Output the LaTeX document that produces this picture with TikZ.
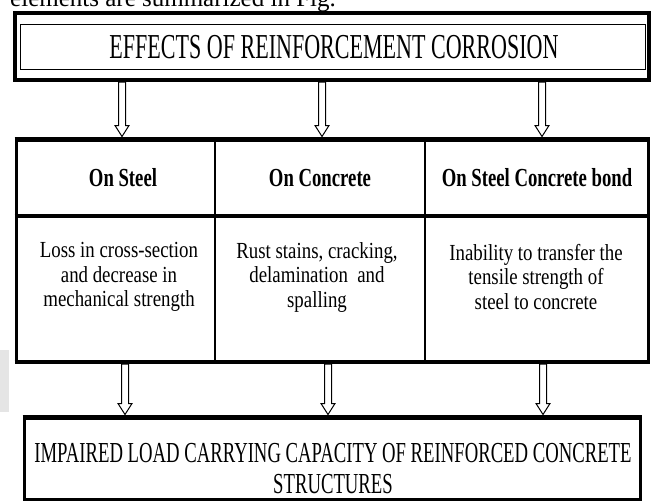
\documentclass[tikz,border=0pt]{standalone}
\usepackage{fontspec}
\setmainfont{Liberation Serif}
\newfontfamily\titlefont[FakeStretch=0.63]{Liberation Serif}
\newfontfamily\headfont[FakeStretch=0.72]{Liberation Serif}
\newfontfamily\bodyfont[FakeStretch=0.82]{Liberation Serif}
\newfontfamily\botfont[FakeStretch=0.645]{Liberation Serif}
\usetikzlibrary{calc}
\begin{document}
\begin{tikzpicture}[x=1pt,y=-1pt,
  harrow/.style={fill=white, draw=black, line width=1pt, line join=miter,
    to path={let \p1=(\tikztostart), \p2=(\tikztotarget) in
      (\x1-3.5pt,\y1) -- (\x1-3.5pt,\y2+11pt) -- (\x1-7pt,\y2+11pt) -- (\x1,\y2)
      -- (\x1+7pt,\y2+11pt) -- (\x1+3.5pt,\y2+11pt) -- (\x1+3.5pt,\y1) -- cycle}},
  txt/.style={inner sep=0pt, align=center},
  head/.style={txt, font=\headfont\bfseries\fontsize{26}{30}\selectfont},
  body/.style={txt, font=\bodyfont\fontsize{23}{24.5}\selectfont}]
\clip (0,0) rectangle (652,501);
\fill[white] (0,0) rectangle (652,501);
\fill[black!10] (0,350) rectangle (9,412);
% page text (cut off)
\node[anchor=base west, inner sep=0pt, font=\fontsize{25}{30}\selectfont] (pg) at (10,6) {elements are summarized in Fig.};
% title box
\node[draw, line width=3.5pt, minimum width=634pt, minimum height=67pt, inner sep=0pt] (t) at (332,46.5) {};
\draw[line width=1pt] (20.5,24) rectangle (645.5,69.5);
\node[txt, font=\titlefont\fontsize{35}{38}\selectfont] (tt) at (334,47) {EFFECTS OF REINFORCEMENT CORROSION};
% grid
\draw[line width=3pt] (16,139) rectangle (648,362);
\draw[line width=5pt] (14.5,139) -- (649.5,139);
\draw[line width=4pt] (14.5,216) -- (649.5,216);
\draw[line width=4.5pt] (14.5,362) -- (649.5,362);
\draw[line width=2pt] (215,139) -- (215,362);
\draw[line width=2pt] (425,139) -- (425,362);
\node[head] (h1) at (123,178) {On Steel};
\node[head] (h2) at (320,178) {On Concrete};
\node[head] (h3) at (537,178) {On Steel Concrete bond};
\node[body] (b1) at (119,277) {Loss in cross-section\\and decrease in\\mechanical strength};
\node[body] (b2) at (317,277) {Rust stains, cracking,\\delamination \ and\\spalling};
\node[body] (b3) at (536,277) {Inability to transfer the\\tensile strength of\\steel to concrete};
% bottom box
\draw[line width=3pt] (24,417) rectangle (640,499.5);
\draw[line width=5pt] (22.5,417) -- (641.5,417);
\node[txt, font=\botfont\fontsize{29}{31}\selectfont] (bt) at (333,469) {IMPAIRED LOAD CARRYING CAPACITY OF REINFORCED CONCRETE\\STRUCTURES};
% arrow coordinates
\coordinate (a1s) at (122,82);  \coordinate (a1e) at (122,136.5);
\coordinate (a2s) at (322,82);  \coordinate (a2e) at (322,136.5);
\coordinate (a3s) at (542,82);  \coordinate (a3e) at (542,136.5);
\coordinate (c1s) at (125,364);   \coordinate (c1e) at (125,414.5);
\coordinate (c2s) at (328,364);   \coordinate (c2e) at (328,414.5);
\coordinate (c3s) at (543,364);   \coordinate (c3e) at (543,414.5);
\draw[harrow] (a1s) to (a1e);
\draw[harrow] (a2s) to (a2e);
\draw[harrow] (a3s) to (a3e);
\draw[harrow] (c1s) to (c1e);
\draw[harrow] (c2s) to (c2e);
\draw[harrow] (c3s) to (c3e);
\end{tikzpicture}
\end{document}
